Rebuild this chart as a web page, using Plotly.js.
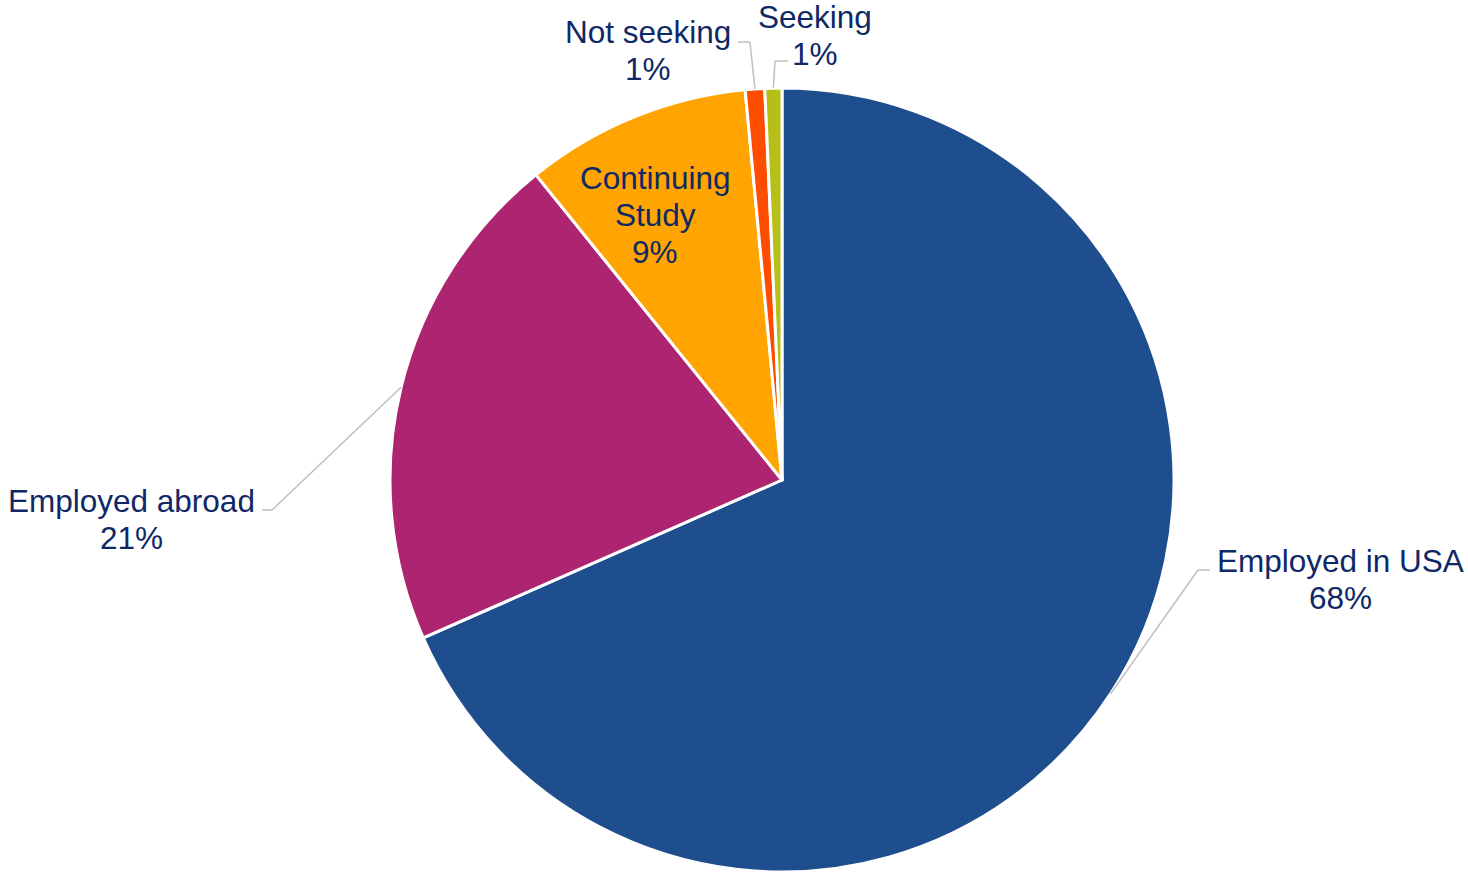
<!DOCTYPE html>
<html>
<head>
<meta charset="utf-8">
<script src="https://cdn.plot.ly/plotly-3.0.1.min.js"></script>
<style>html,body{margin:0;padding:0;background:#fff;}#chart{width:1468px;height:872px;}</style>
</head>
<body>
<div id="chart"></div>
<script>
// ---- data ----
const categories = ['Employed in USA', 'Employed abroad', 'Continuing Study', 'Not seeking', 'Seeking'];
const labelLines = [['Employed in USA'], ['Employed abroad'], ['Continuing', 'Study'], ['Not seeking'], ['Seeking']];
const values = [68.4, 20.8, 9.3, 0.8, 0.7];
const sliceColors = ['#1F4E8E', '#AD2470', '#FFA400', '#FF4D00', '#B6BF17'];

// ---- layout geometry (pixels) ----
const W = 1468, H = 872;
const cx = 782, cy = 480, R = 392;
const textColor = '#0E2966';
const leaderColor = '#BFBFBF';
const lineGap = 37;
// centre x and first-line y of each label block
const labelPos = [[1340, 561], [131, 501], [655, 178], [648, 32], [815, 17]];
// leader elbows (null = label inside slice, no leader)
const elbows = [
  [[1198, 570], [1210, 570]],
  [[272, 510], [262, 510]],
  null,
  [[750, 42], [738, 42]],
  [[775, 61], [788, 61]]
];

const total = values.reduce((a, b) => a + b, 0);
const pct = values.map(v => Math.round(v / total * 100) + '%');

const px = x => x / W;
const py = y => 1 - y / H;

const annotations = [];
categories.forEach((c, i) => {
  const lines = labelLines[i].concat([pct[i]]);
  lines.forEach((t, k) => {
    annotations.push({
      xref: 'paper', yref: 'paper',
      x: px(labelPos[i][0]), y: py(labelPos[i][1] + k * lineGap),
      xanchor: 'center', yanchor: 'middle',
      text: t,
      showarrow: false,
      font: {family: 'Liberation Sans, Arial, sans-serif', size: 31.5, color: textColor}
    });
  });
});

const shapes = [];
let cum = 0;
values.forEach((v, i) => {
  const mid = (cum + v / 2) / total * 2 * Math.PI;
  cum += v;
  if (!elbows[i]) return;
  const sx = cx + R * Math.sin(mid);
  const sy = cy - R * Math.cos(mid);
  const pts = [[sx, sy]].concat(elbows[i]);
  for (let k = 0; k < pts.length - 1; k++) {
    shapes.push({
      type: 'line', xref: 'paper', yref: 'paper',
      x0: px(pts[k][0]), y0: py(pts[k][1]),
      x1: px(pts[k + 1][0]), y1: py(pts[k + 1][1]),
      line: {color: leaderColor, width: 1.5}
    });
  }
});

const trace = {
  type: 'pie',
  labels: categories,
  values: values,
  sort: false,
  direction: 'clockwise',
  rotation: 0,
  textinfo: 'none',
  hoverinfo: 'label+percent',
  marker: {colors: sliceColors, line: {color: '#FFFFFF', width: 3}},
  domain: {x: [(cx - R) / W, (cx + R) / W], y: [1 - (cy + R) / H, 1 - (cy - R) / H]},
  showlegend: false
};

const layout = {
  width: W, height: H,
  margin: {l: 0, r: 0, t: 0, b: 0},
  paper_bgcolor: '#FFFFFF',
  showlegend: false,
  annotations: annotations,
  shapes: shapes
};

Plotly.newPlot('chart', [trace], layout, {displayModeBar: false, staticPlot: true});
</script>
</body>
</html>
